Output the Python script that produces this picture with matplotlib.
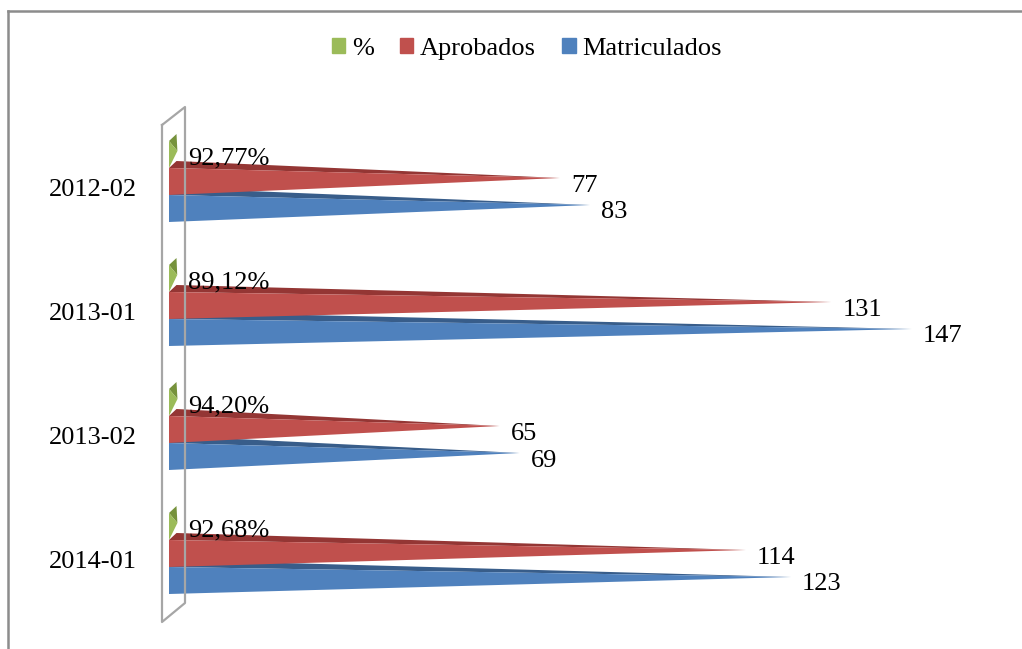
import matplotlib
matplotlib.use("Agg")
import matplotlib.pyplot as plt
from matplotlib.patches import Patch
from matplotlib.lines import Line2D

# ==============================
# datos
# ==============================
periodos = ["2012-02", "2013-01", "2013-02", "2014-01"]
matriculados = [83, 147, 69, 123]
aprobados = [77, 131, 65, 114]
porcentaje = [92.77, 89.12, 94.20, 92.68]

# colores (frente, cara superior)
verde = ("#9BBB59", "#76923C")
rojo = ("#C0504D", "#943634")
azul = ("#4F81BD", "#385D8A")

plt.rcParams['font.family'] = ['Liberation Serif', 'DejaVu Serif']
plt.rcParams['font.size'] = 19

W, H = 1022, 649
fig = plt.figure(figsize=(W / 100, H / 100), dpi=100)
ax = fig.add_axes([0, 0, 1, 1])

# escala: pixeles por unidad
x0_px, kx = 169, 5.027
y0_px, ky = 195, 124
ax.set_xlim(-x0_px / kx, (W - x0_px) / kx)
ax.set_ylim((H - y0_px) / ky, -y0_px / ky)
ax.axis('off')

h = 27 / ky          # alto de cada barra
dx = 7.5 / kx        # profundidad 3D
dy = 7 / ky


def piramide(v, top, col, etiqueta):
    bot = top + h
    cen = top + h / 2
    ax_ = v + dx / 2
    ay_ = cen - dy / 2
    # cara superior
    ax.fill([0, dx, ax_], [top, top - dy, ay_], color=col[1], lw=0)
    # cara frontal
    ax.fill([0, 0, ax_], [top, bot, ay_], color=col[0], lw=0)
    ax.text(ax_ + 11 / kx, cen + 4 / ky, etiqueta, ha='left', va='center')


# pared lateral
pared_x = [-7 / kx, 16 / kx, 16 / kx, -7 / kx, -7 / kx]
pared_y = [(125 - y0_px) / ky, (107 - y0_px) / ky, (603 - y0_px) / ky,
           (622 - y0_px) / ky, (125 - y0_px) / ky]
ax.plot(pared_x, pared_y, color="#A6A6A6", lw=1.6)

for i, p in enumerate(periodos):
    piramide(porcentaje[i] / 100, i - 2 * h, verde,
             f"{porcentaje[i]:.2f}%".replace(".", ","))
    piramide(matriculados[i], i, azul, str(matriculados[i]))
    piramide(aprobados[i], i - h, rojo, str(aprobados[i]))
    ax.text(-32 / kx, i - 5 / ky, p, ha='right', va='center')

# leyenda
handles = [Patch(color=verde[0]), Patch(color=rojo[0]), Patch(color=azul[0])]
fig.legend(handles, ["%", "Aprobados", "Matriculados"], loc='center',
           bbox_to_anchor=(527 / W, 1 - 49 / H), ncol=3, frameon=False,
           handlelength=0.5, handleheight=0.5, handletextpad=0.25,
           columnspacing=1.0)

# marco exterior
fig.add_artist(Line2D([8 / W, 1], [1 - 11 / H, 1 - 11 / H], color="#8C8C8C", lw=1.8))
fig.add_artist(Line2D([8 / W, 8 / W], [0, 1 - 11 / H], color="#8C8C8C", lw=1.8))

plt.savefig("out.png", dpi=100)
